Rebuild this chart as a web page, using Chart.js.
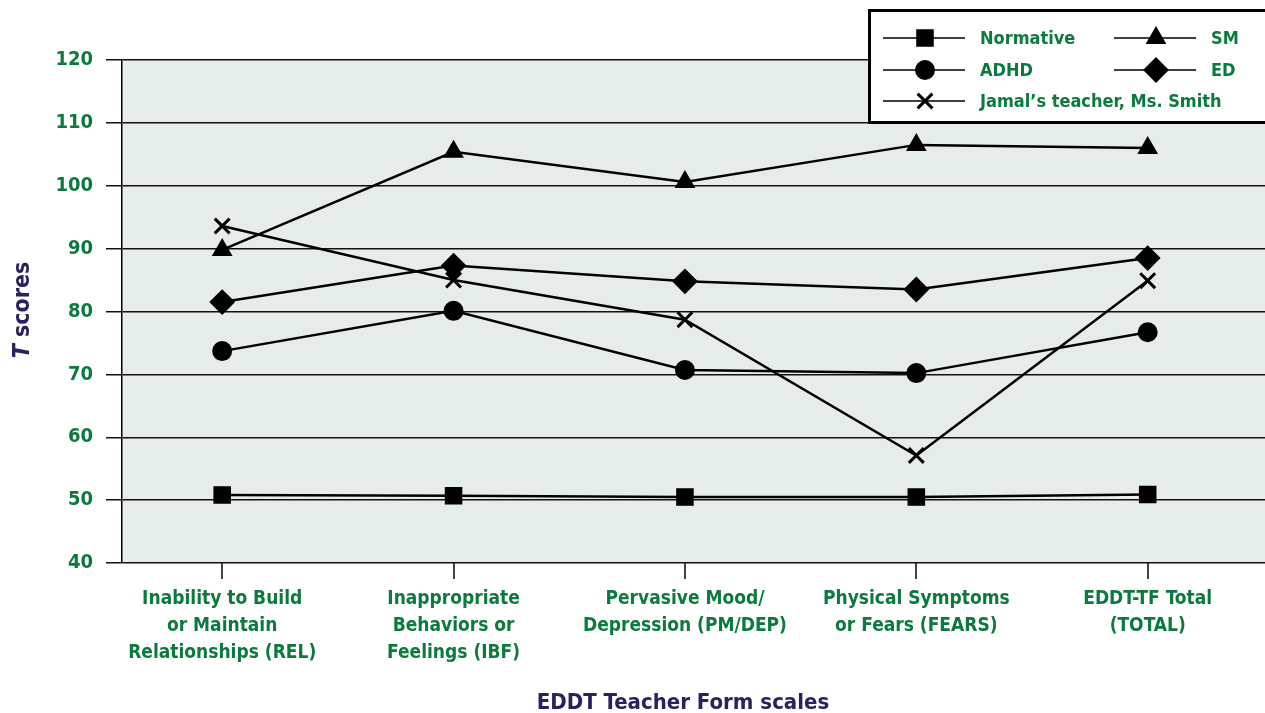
<!DOCTYPE html>
<html lang="en">
<head>
<meta charset="UTF-8">
<title>EDDT Teacher Form scales</title>
<script src="https://cdn.jsdelivr.net/npm/chart.js"></script>
<style>
  html, body { margin: 0; padding: 0; background: #fff; }
  #wrap { width: 1265px; height: 713px; position: relative; overflow: hidden; }
</style>
</head>
<body>
<div id="wrap"><canvas id="tscores" width="1265" height="713"></canvas></div>
<script>
const categories = [
    ['Inability to Build', 'or Maintain', 'Relationships (REL)'],
    ['Inappropriate', 'Behaviors or', 'Feelings (IBF)'],
    ['Pervasive Mood/', 'Depression (PM/DEP)'],
    ['Physical Symptoms', 'or Fears (FEARS)'],
    ['EDDT-TF Total', '(TOTAL)']
];
const yTicks = [40, 50, 60, 70, 80, 90, 100, 110, 120];

const normative = [50.8, 50.7, 50.5, 50.5, 50.9];
const adhd      = [73.7, 80.1, 70.7, 70.2, 76.7];
const sm        = [89.8, 105.4, 100.6, 106.5, 106.0];
const ed        = [81.5, 87.3, 84.8, 83.5, 88.5];
const jamal     = [93.6, 85.0, 78.7, 57.1, 84.9];

const GREEN = '#0b7a3d';
const NAVY = '#2b2160';
const FONT = '"Liberation Sans Narrow", "Arial Narrow", "DejaVu Sans Condensed", sans-serif';

// series: label, values, marker style, marker radius, marker border
const series = [
    { label: 'Normative', data: normative, style: 'rect', r: 11, bw: 2 },
    { label: 'ADHD', data: adhd, style: 'circle', r: 9, bw: 2 },
    { label: 'SM', data: sm, style: 'triangle', r: 10, bw: 2 },
    { label: 'ED', data: ed, style: 'rectRot', r: 11.5, bw: 2 },
    { label: 'Jamal\u2019s teacher, Ms. Smith', data: jamal, style: 'crossRot', r: 10.5, bw: 3 }
];

const plotBg = {
    id: 'plotBg',
    beforeDraw(chart) {
        const { ctx, chartArea: a } = chart;
        ctx.save();
        ctx.fillStyle = '#e6ecea';
        ctx.fillRect(a.left, a.top, a.right - a.left, a.bottom - a.top);
        ctx.restore();
    }
};

const extras = {
    id: 'extras',
    afterDraw(chart) {
        const ctx = chart.ctx;
        ctx.save();

        // legend box
        ctx.fillStyle = '#fff';
        ctx.fillRect(869, 10, 400, 112);
        ctx.strokeStyle = '#000';
        ctx.lineWidth = 3;
        ctx.strokeRect(869.5, 10.5, 400, 112);

        const slots = [
            { x: 883, y: 38 }, { x: 883, y: 70 }, { x: 1114, y: 38 },
            { x: 1114, y: 70 }, { x: 883, y: 101 }
        ];
        series.forEach((s, k) => {
            const p = slots[k];
            ctx.strokeStyle = '#000';
            ctx.lineWidth = 1.5;
            ctx.beginPath();
            ctx.moveTo(p.x, p.y);
            ctx.lineTo(p.x + 82, p.y);
            ctx.stroke();
            ctx.fillStyle = '#000';
            ctx.lineWidth = s.bw;
            Chart.helpers.drawPoint(ctx, { pointStyle: s.style, radius: s.r, rotation: 0, borderWidth: s.bw }, p.x + 42, p.y);
            ctx.fillStyle = GREEN;
            ctx.font = 'bold 18px ' + FONT;
            ctx.textBaseline = 'middle';
            ctx.textAlign = 'left';
            ctx.fillText(s.label, p.x + 97, p.y + 1);
        });

        // axis titles
        ctx.fillStyle = NAVY;
        ctx.textBaseline = 'middle';
        ctx.font = 'bold 22px ' + FONT;
        ctx.textAlign = 'center';
        ctx.fillText('EDDT Teacher Form scales', 683, 703);

        ctx.translate(23, 310);
        ctx.rotate(-Math.PI / 2);
        ctx.font = 'italic bold 23px ' + FONT;
        const wT = ctx.measureText('T').width;
        ctx.font = 'bold 23px ' + FONT;
        const wS = ctx.measureText(' scores').width;
        const start = -(wT + wS) / 2;
        ctx.textAlign = 'left';
        ctx.font = 'italic bold 23px ' + FONT;
        ctx.fillText('T', start, 0);
        ctx.font = 'bold 23px ' + FONT;
        ctx.fillText(' scores', start + wT, 0);
        ctx.restore();
    }
};

new Chart(document.getElementById('tscores'), {
    type: 'line',
    data: {
        datasets: series.map(s => ({
            label: s.label,
            data: s.data.map((v, i) => ({ x: i, y: v })),
            borderColor: '#000',
            borderWidth: 2.5,
            backgroundColor: '#000',
            pointStyle: s.style,
            pointRadius: s.r,
            pointBorderWidth: s.bw,
            pointBorderColor: '#000',
            pointBackgroundColor: '#000',
            tension: 0,
            clip: false
        }))
    },
    options: {
        responsive: false,
        animation: false,
        events: [],
        layout: { autoPadding: false, padding: { top: 60, right: 0, bottom: 0, left: 0 } },
        plugins: { legend: { display: false }, tooltip: { enabled: false } },
        scales: {
            x: {
                type: 'linear',
                min: -0.433,
                max: 4.507,
                afterBuildTicks: scale => { scale.ticks = categories.map((c, i) => ({ value: i })); },
                afterFit: scale => {
                    scale.height = 150;
                    scale.paddingLeft = 0;
                    scale.paddingRight = 0;
                },
                border: { display: false },
                grid: { drawOnChartArea: false, drawTicks: true, tickLength: 16, color: '#444', lineWidth: 2 },
                ticks: {
                    autoSkip: false,
                    maxRotation: 0,
                    padding: 7,
                    color: GREEN,
                    font: { family: FONT, size: 19, weight: 'bold', lineHeight: 1.42 },
                    callback: v => categories[v]
                }
            },
            y: {
                min: 40,
                max: 120,
                afterBuildTicks: scale => { scale.ticks = yTicks.map(v => ({ value: v })); },
                afterFit: scale => { scale.width = 122; },
                border: { display: true, color: '#000', width: 1.5 },
                grid: { color: '#111', lineWidth: 1.5, tickLength: 16, drawTicks: true },
                ticks: {
                    padding: 13,
                    color: GREEN,
                    font: { family: FONT, size: 20, weight: 'bold' }
                }
            }
        }
    },
    plugins: [plotBg, extras]
});
</script>
</body>
</html>
